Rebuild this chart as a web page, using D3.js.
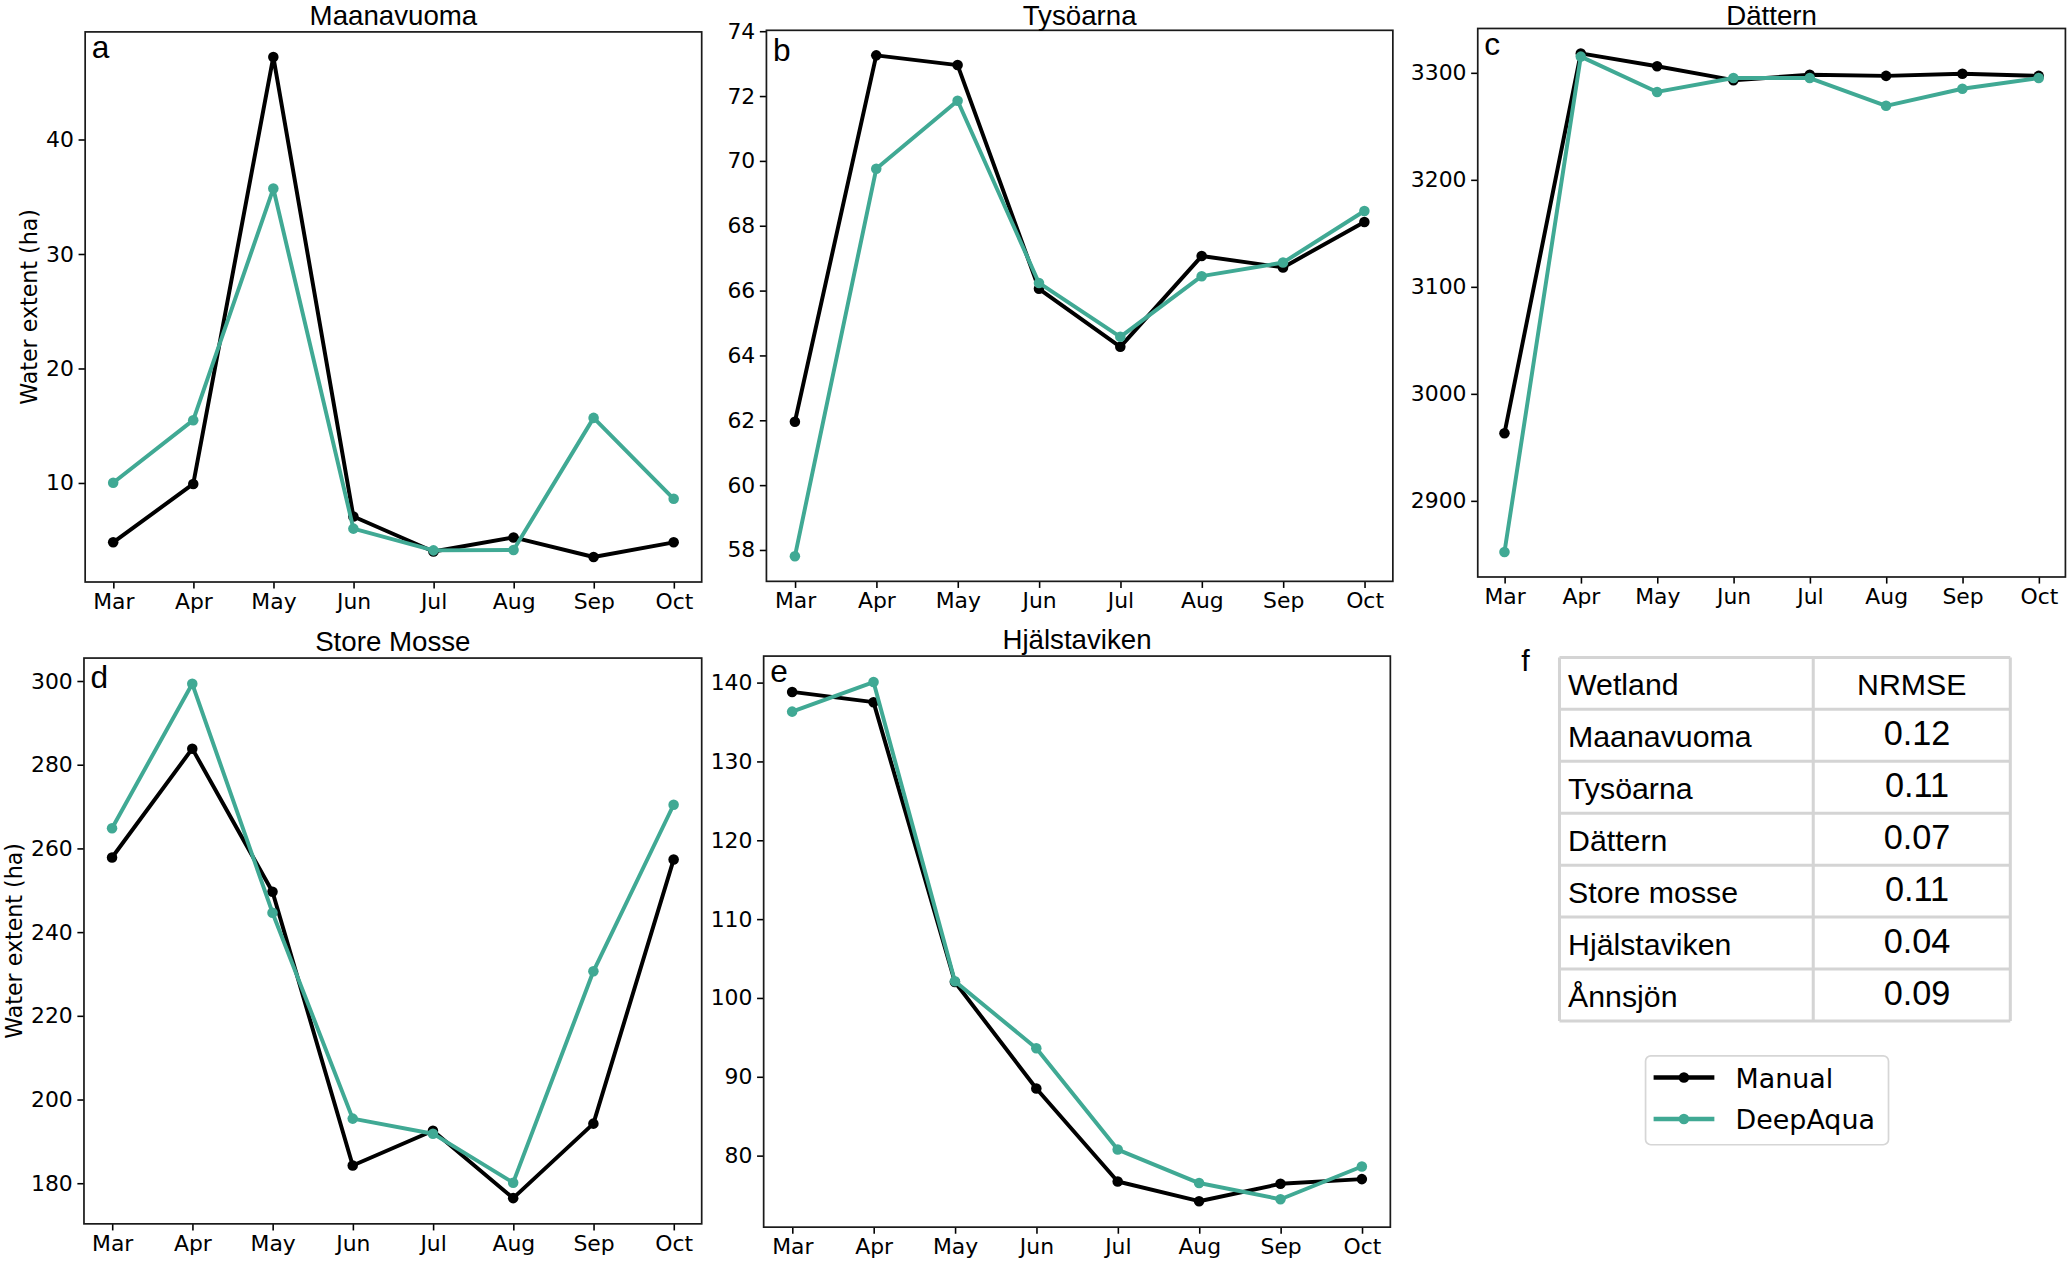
<!DOCTYPE html>
<html>
<head>
<meta charset="utf-8">
<script src="https://cdn.jsdelivr.net/npm/d3@7"></script>
<style>
  html, body { margin: 0; padding: 0; background: #fff; }
  svg { display: block; }
</style>
</head>
<body>
<div id="chart"></div>
<script>
// ---------------- DATA ----------------
const months = ["Mar", "Apr", "May", "Jun", "Jul", "Aug", "Sep", "Oct"];
const panelTitles = ["Maanavuoma", "Tysöarna", "Dättern", "Store Mosse", "Hjälstaviken"];
const panelLetters = ["a", "b", "c", "d", "e"];
const seriesNames = ["Manual", "DeepAqua"];

const manualMaanavuoma = [4.8, 9.9, 47.2, 7.06, 4.0, 5.23, 3.52, 4.8];
const deepMaanavuoma   = [10.0, 15.47, 35.7, 6.0, 4.1, 4.13, 15.67, 8.6];

const manualTysoarna = [61.95, 73.25, 72.95, 66.05, 64.26, 67.06, 66.71, 68.11];
const deepTysoarna   = [57.8, 69.75, 71.85, 66.23, 64.57, 66.44, 66.86, 68.45];

const manualDattern = [2963, 3318, 3306, 3293, 3298, 3297, 3299, 3297];
const deepDattern   = [2852, 3315, 3282, 3295, 3295, 3269, 3285, 3295];

const manualStoreMosse = [257.8, 283.8, 249.6, 184.2, 192.5, 176.4, 194.2, 257.3];
const deepStoreMosse   = [264.8, 299.3, 244.6, 195.4, 191.8, 180.1, 230.6, 270.4];

const manualHjalstaviken = [138.8, 137.5, 102.0, 88.5, 76.7, 74.2, 76.4, 77.0];
const deepHjalstaviken   = [136.3, 140.05, 102.1, 93.6, 80.75, 76.5, 74.45, 78.6];

const ticksMaanavuoma   = [10, 20, 30, 40];
const ticksTysoarna     = [58, 60, 62, 64, 66, 68, 70, 72, 74];
const ticksDattern      = [2900, 3000, 3100, 3200, 3300];
const ticksStoreMosse   = [180, 200, 220, 240, 260, 280, 300];
const ticksHjalstaviken = [80, 90, 100, 110, 120, 130, 140];

const tableHeader = ["Wetland", "NRMSE"];
const tableNames  = ["Maanavuoma", "Tysöarna", "Dättern", "Store mosse", "Hjälstaviken", "Ånnsjön"];
const tableNrmse  = ["0.12", "0.11", "0.07", "0.11", "0.04", "0.09"];

const yAxisLabel = "Water extent (ha)";

// ---------------- STYLE / LAYOUT ----------------
const W = 2067, H = 1263;
const K = W / 1568;               // design units -> pixels
const VH = H / K;
const colManual = "#000000";
const colDeep = "#40a994";
const tickFont = "'DejaVu Sans', sans-serif";
const titleFont = "'Liberation Sans', Arial, sans-serif";

const svg = d3.select("#chart").append("svg")
  .attr("width", W).attr("height", H)
  .attr("viewBox", `0 0 1568 ${VH}`);

svg.append("rect").attr("width", 1568).attr("height", VH).attr("fill", "#fff");

// frames: [left, right, top, bottom]
const panels = [
  { box: [64.6, 532.3, 24.2, 441.5], manual: manualMaanavuoma, deep: deepMaanavuoma, ticks: ticksMaanavuoma, ylabel: true, asc: false },
  { box: [581.4, 1056.6, 23.0, 441.0], manual: manualTysoarna, deep: deepTysoarna, ticks: ticksTysoarna, ylabel: false, asc: true },
  { box: [1121.0, 1566.8, 21.6, 437.7], manual: manualDattern, deep: deepDattern, ticks: ticksDattern, ylabel: false, asc: false },
  { box: [63.7, 532.3, 499.2, 928.4], manual: manualStoreMosse, deep: deepStoreMosse, ticks: ticksStoreMosse, ylabel: true, asc: true },
  { box: [579.3, 1054.7, 497.7, 930.9], manual: manualHjalstaviken, deep: deepHjalstaviken, ticks: ticksHjalstaviken, ylabel: false, asc: false }
];

panels.forEach((p, idx) => {
  const [L, R, T, B] = p.box;
  const n = months.length;
  const x = d3.scaleLinear().domain([-0.35, (n - 1) + 0.35]).range([L, R]);
  const ext = d3.extent(p.manual.concat(p.deep));
  const m = 0.05 * (ext[1] - ext[0]);
  const y = d3.scaleLinear().domain([ext[0] - m, ext[1] + m]).range([B, T]);

  const g = svg.append("g");

  // x axis
  const gx = g.append("g").attr("transform", `translate(0,${B})`)
    .call(d3.axisBottom(x).tickValues(d3.range(n)).tickFormat(i => months[i])
      .tickSize(5).tickPadding(3.8));
  gx.select(".domain").remove();
  gx.selectAll("line").attr("stroke", "#000").attr("stroke-width", 1.2);
  gx.selectAll("text").attr("font-family", tickFont).attr("font-size", 16.6).attr("fill", "#000");

  // y axis
  const gy = g.append("g").attr("transform", `translate(${L},0)`)
    .call(d3.axisLeft(y).tickValues(p.ticks).tickFormat(d3.format("d"))
      .tickSize(5).tickPadding(3.5));
  gy.select(".domain").remove();
  gy.selectAll("line").attr("stroke", "#000").attr("stroke-width", 1.2);
  gy.selectAll("text").attr("font-family", tickFont).attr("font-size", 16.6).attr("fill", "#000");

  // lines + markers
  const line = d3.line().x((d, i) => x(i)).y(d => y(d));
  [[p.manual, colManual], [p.deep, colDeep]].forEach(([vals, col]) => {
    g.append("path").datum(vals).attr("d", line)
      .attr("fill", "none").attr("stroke", col).attr("stroke-width", 3)
      .attr("stroke-linejoin", "round");
    g.selectAll(null).data(vals).enter().append("circle")
      .attr("cx", (d, i) => x(i)).attr("cy", d => y(d)).attr("r", 4)
      .attr("fill", col);
  });

  // frame
  g.append("rect").attr("x", L).attr("y", T).attr("width", R - L).attr("height", B - T)
    .attr("fill", "none").attr("stroke", "#1a1a1a").attr("stroke-width", 1.3);

  // title
  g.append("text").attr("x", (L + R) / 2).attr("y", Math.max(T - 5.5, 19))
    .attr("text-anchor", "middle").attr("font-family", titleFont)
    .attr("font-size", 21).attr("fill", "#000").text(panelTitles[idx]);

  // panel letter
  g.append("text").attr("x", L + 5).attr("y", T + (p.asc ? 23 : 20))
    .attr("font-family", titleFont).attr("font-size", 24).attr("fill", "#000")
    .text(panelLetters[idx]);

  // y label (placed left of the tick labels; getBBox is in the axis group's local frame)
  if (p.ylabel) {
    const bb = gy.node().getBBox();
    const bx = Math.max(L + bb.x - 7, 16.5);
    const cy = (T + B) / 2;
    g.append("text").attr("transform", `translate(${bx},${cy}) rotate(-90)`)
      .attr("text-anchor", "middle").attr("font-family", tickFont)
      .attr("font-size", 16.8).attr("fill", "#000").text(yAxisLabel);
  }
});

// ---------------- TABLE (f) ----------------
const tL = 1183, tR = 1525, tSplit = 1375.5, tTop = 498.7, rowH = 39.4;
const gt = svg.append("g");
gt.append("text").attr("x", 1154).attr("y", 509).attr("font-family", titleFont)
  .attr("font-size", 23).attr("fill", "#000").text("f");

const rows = [tableHeader].concat(tableNames.map((nm, i) => [nm, tableNrmse[i]]));
const gridCol = "#d4d4d4";
rows.forEach((r, i) => {
  const top = tTop + i * rowH;
  gt.append("text").attr("x", tL + 6.5).attr("y", top + 28.6)
    .attr("font-family", titleFont).attr("font-size", 23).attr("fill", "#000").text(r[0]);
  const isHeader = i === 0;
  gt.append("text").attr("x", (tSplit + tR) / 2 + (isHeader ? 0 : 4)).attr("y", top + (isHeader ? 28.6 : 27.3))
    .attr("text-anchor", "middle").attr("font-family", titleFont)
    .attr("font-size", isHeader ? 23 : 26).attr("fill", "#000").text(r[1]);
});
d3.range(rows.length + 1).forEach(i => {
  gt.append("line").attr("x1", tL).attr("x2", tR)
    .attr("y1", tTop + i * rowH).attr("y2", tTop + i * rowH)
    .attr("stroke", gridCol).attr("stroke-width", 2.3);
});
[tL, tSplit, tR].forEach(xv => {
  gt.append("line").attr("x1", xv).attr("x2", xv)
    .attr("y1", tTop).attr("y2", tTop + rows.length * rowH)
    .attr("stroke", gridCol).attr("stroke-width", 2.3);
});

// ---------------- LEGEND ----------------
const gl = svg.append("g");
gl.append("rect").attr("x", 1248.3).attr("y", 801).attr("width", 184.3).attr("height", 67.4)
  .attr("rx", 4).attr("fill", "#fff").attr("stroke", "#d6d6d6").attr("stroke-width", 1.3);
[colManual, colDeep].forEach((col, i) => {
  const yy = 817.4 + i * 31.5;
  gl.append("line").attr("x1", 1254.4).attr("x2", 1300.5).attr("y1", yy).attr("y2", yy)
    .attr("stroke", col).attr("stroke-width", 3.5);
  gl.append("circle").attr("cx", 1277.4).attr("cy", yy).attr("r", 4).attr("fill", col);
  gl.append("text").attr("x", 1316.6).attr("y", yy + 7.8)
    .attr("font-family", tickFont).attr("font-size", 20.4).attr("fill", "#000")
    .text(seriesNames[i]);
});
</script>
</body>
</html>
